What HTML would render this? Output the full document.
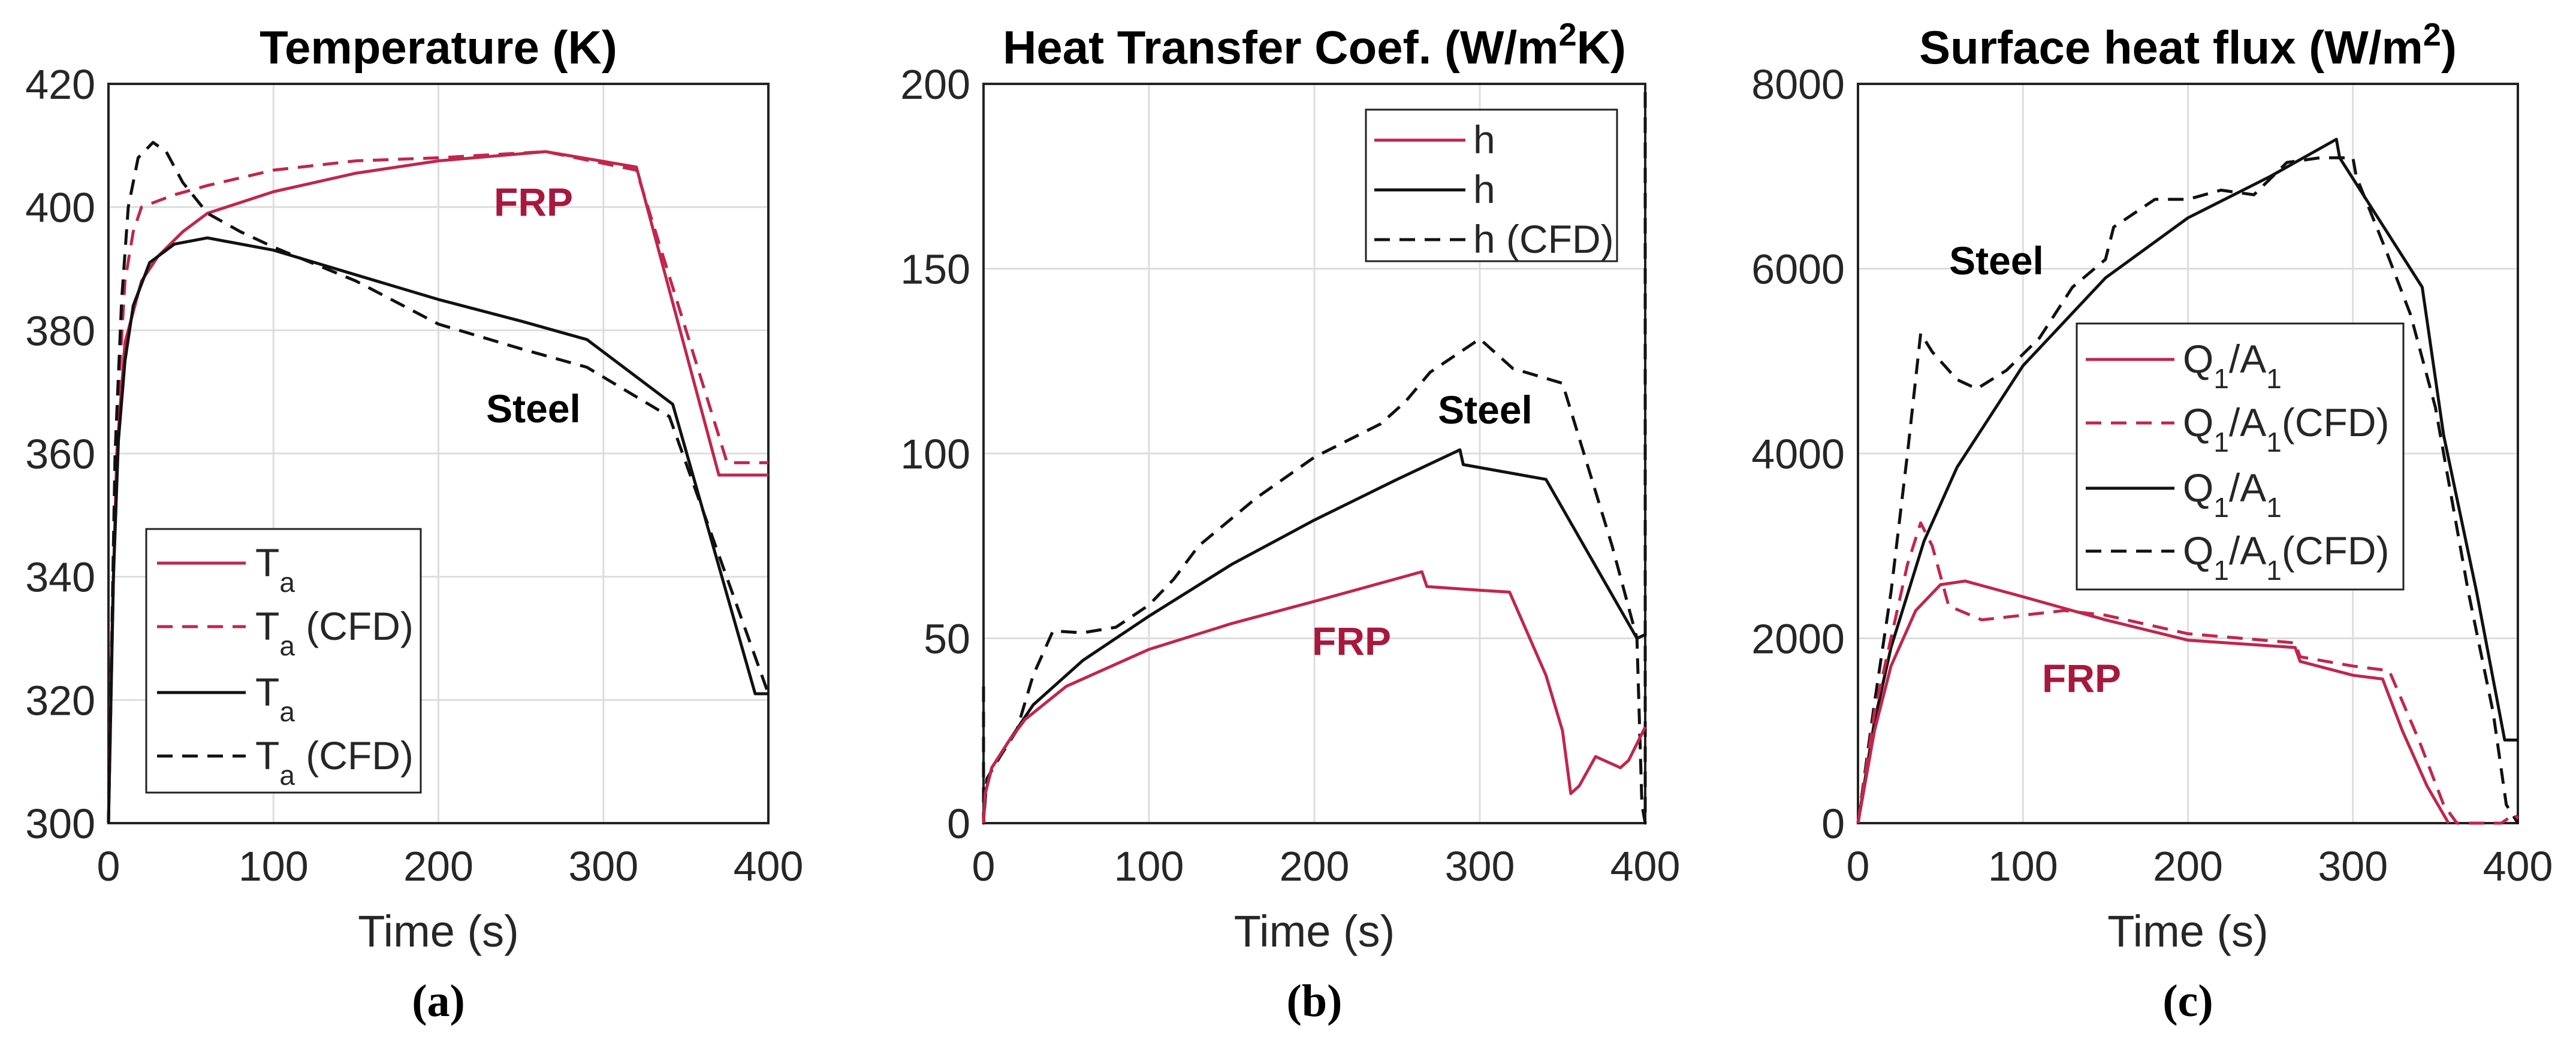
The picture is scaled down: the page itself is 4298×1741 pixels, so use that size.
<!DOCTYPE html>
<html><head><meta charset="utf-8"><style>
html,body{margin:0;padding:0;background:#fff;}
svg{display:block;}
</style></head><body>
<svg id="fig" width="4298" height="1741" viewBox="0 0 4298 1741" xmlns="http://www.w3.org/2000/svg" font-family="'Liberation Sans', sans-serif"></svg>
<script>
// ---- data: panel (a) temperature ----
const aFrpT=[0,2,5,10,20,30,45,60,100,150,200,265,320,370,400];
const aFrpV=[300,330,360,378,388,392,396,399,402.5,405.5,407.5,409,406.5,356.5,356.5];
const aFrpCfdT=[0,3,6,10,15,20,40,60,100,150,200,265,320,375,400];
const aFrpCfdV=[300,340,370,388,396,400,402,403.5,406,407.5,408,409,406,358.5,358.5];
const aStT=[0,3,6,10,15,25,40,60,100,150,200,250,290,342,392,400];
const aStV=[300,340,362,375,384,391,394,395,393,389,385,381.5,378.5,368,321,321];
const aStCfdT=[0,2,4,8,12,18,27,35,45,60,80,100,150,200,250,290,340,400];
const aStCfdV=[300,330,360,385,400,408,410.5,409,404,399,396,393.5,388,381,377,374,366,321];
// ---- data: panel (b) heat transfer coefficient ----
const bFrpT=[0,1,5,15,25,50,100,150,200,265,268,300,318,340,350,355,360,370,385,390,400];
const bFrpV=[0,8,15,22,28,37,47,54,60,68,64,63,62.5,40,25,8,10,18,15,17,26];
const bStT=[0,1,5,15,30,60,100,150,200,250,288,290,340,395,400];
const bStV=[0,8,15,22,32,44,56,70,82,93,101,97,93,50,51];
const bStCfdT=[0,0,2,10,20,30,42,60,80,100,115,130,165,200,240,255,270,300,320,350,380,395,398,400,400];
const bStCfdV=[37,0,12,18,25,40,52,51.5,53,59,66,75,88,99,108,114,122,131,123,119,75,50,5,0,200];
// ---- data: panel (c) surface heat flux ----
const cFrpT=[0,10,20,35,50,65,100,150,200,265,268,300,318,330,345,358];
const cFrpV=[0,1000,1700,2300,2580,2620,2450,2200,1980,1900,1750,1600,1560,1000,400,0];
const cFrpCfdT=[0,10,20,30,38,45,55,75,100,125,150,200,265,268,300,322,340,355,363,390,398,400];
const cFrpCfdV=[0,1200,2000,2800,3250,3000,2350,2200,2250,2300,2250,2050,1950,1800,1700,1650,900,200,0,0,100,50];
const cStT=[0,10,20,40,60,100,150,200,250,290,292,342,355,375,392,400];
const cStV=[0,1100,1900,3050,3850,4950,5900,6550,7000,7400,7200,5800,4200,2500,900,900];
const cStCfdT=[0,10,20,30,38,45,60,72,90,110,130,150,155,180,200,220,240,260,280,300,302,320,335,350,370,385,393,400];
const cStCfdV=[0,1300,2500,4000,5300,5100,4800,4700,4900,5250,5800,6100,6450,6750,6750,6850,6800,7150,7200,7200,7000,6200,5500,4500,2500,1200,200,0];
// ---- tick labels ----
const xTicks=[0,100,200,300,400];
const aYTicks=[300,320,340,360,380,400,420];
const bYTicks=[0,50,100,150,200];
const cYTicks=[0,2000,4000,6000,8000];

const RED='#c1264c', BLK='#111';
const NS='http://www.w3.org/2000/svg';
const svg=document.getElementById('fig');
function mk(tag,attrs,parent){const e=document.createElementNS(NS,tag);for(const k in attrs)e.setAttribute(k,attrs[k]);(parent||svg).appendChild(e);return e;}
const Y0=140,Y1=1374;
function panel(id,x0,x1,ymin,ymax,yticks,title,label){
  const g=mk('g',{});
  
  
  const sx=t=>x0+(t/400)*(x1-x0);
  const sy=v=>Y1-(v-ymin)/(ymax-ymin)*(Y1-Y0);
  xTicks.forEach(t=>{
    const l=mk('line',{x1:sx(t),x2:sx(t),y1:Y0,y2:Y1,stroke:'#dddddd','stroke-width':3},g);
    
    
    const tx=mk('text',{x:sx(t),y:Y1+96,'font-size':70,fill:'#262626','text-anchor':'middle'},g);
    
    
    tx.textContent=t;
  });
  yticks.forEach(v=>{
    const l=mk('line',{x1:x0,x2:x1,y1:sy(v),y2:sy(v),stroke:'#dddddd','stroke-width':3},g);
    
    
    const tx=mk('text',{x:x0-22,y:sy(v)+25,'font-size':70,fill:'#262626','text-anchor':'end'},g);
    
    
    tx.textContent=v;
  });
  const box=mk('rect',{x:x0,y:Y0,width:x1-x0,height:Y1-Y0,fill:'none',stroke:'#222','stroke-width':4},g);
  
  
  const tt=mk('text',{x:(x0+x1)/2,y:106,'font-size':78,'font-weight':'bold','text-anchor':'middle',fill:'#000'},g);
  
  
  tt.innerHTML=title;
  const xl=mk('text',{x:(x0+x1)/2,y:1580,'font-size':74,'text-anchor':'middle',fill:'#262626'},g);
  
  
  xl.textContent='Time (s)';
  const pl=mk('text',{x:(x0+x1)/2,y:1696,'font-size':76,'font-weight':'bold','text-anchor':'middle',fill:'#000','font-family':"'Liberation Serif', serif"},g);
  
  
  pl.textContent=label;
  return {g,sx,sy};
}
function series(p,ts,vs,color,dash,name){
  const d=ts.map((t,i)=>(i?'L':'M')+p.sx(t).toFixed(1)+' '+p.sy(vs[i]).toFixed(1)).join(' ');
  const a={d,fill:'none',stroke:color,'stroke-width':5,'stroke-linejoin':'round'};
  if(dash)a['stroke-dasharray']='26 16';
  const e=mk('path',a,p.g);
  
  
}
function note(p,x,y,txt,color,name){
  const e=mk('text',{x,y,'font-size':66,'font-weight':'bold','text-anchor':'middle',fill:color},p.g);
  
  
  e.textContent=txt;
}
function legend(p,x,y,w,h,entries,lx0,lx1,tx){
  const lg=mk('g',{},p.g);
  
  
  mk('rect',{x,y,width:w,height:h,fill:'#fff',stroke:'#222','stroke-width':3},lg);
  entries.forEach(en=>{
    const a={x1:lx0,x2:lx1,y1:en.y,y2:en.y,stroke:en.c,'stroke-width':5};
    if(en.dash)a['stroke-dasharray']='26 16';
    const l=mk('line',a,lg);
    
    
    const t=mk('text',{x:tx,y:en.y+22,'font-size':66,fill:'#262626'},lg);
    
    
    t.innerHTML=en.t;
  });
}
const S=(s)=>`<tspan dy="26" font-size="46">${s}</tspan>`;
const U=(s)=>`<tspan dy="-26">${s}</tspan>`;
// Panel a
const pa=panel('temperature',181,1282,300,420,aYTicks,'Temperature (K)','(a)');
series(pa,aFrpCfdT,aFrpCfdV,RED,true,'frp-ta-cfd-line');
series(pa,aFrpT,aFrpV,RED,false,'frp-ta-line');
series(pa,aStCfdT,aStCfdV,BLK,true,'steel-ta-cfd-line');
series(pa,aStT,aStV,BLK,false,'steel-ta-line');
note(pa,890,360,'FRP','#a8183e','frp-annotation');
note(pa,890,705,'Steel','#000','steel-annotation');
legend(pa,244,883,458,440,[
 {y:940,c:RED,dash:false,t:'T'+S('a')},
 {y:1046,c:RED,dash:true,t:'T'+S('a')+U(' (CFD)')},
 {y:1156,c:BLK,dash:false,t:'T'+S('a')},
 {y:1262,c:BLK,dash:true,t:'T'+S('a')+U(' (CFD)')}],262,410,426);
// Panel b
const pb=panel('heat-transfer-coef',1641,2745,0,200,bYTicks,'Heat Transfer Coef. (W/m<tspan dy="-30" font-size="54">2</tspan><tspan dy="30">K)</tspan>','(b)');
series(pb,bStCfdT,bStCfdV,BLK,true,'steel-h-cfd-line');
series(pb,bStT,bStV,BLK,false,'steel-h-line');
series(pb,bFrpT,bFrpV,RED,false,'frp-h-line');
note(pb,2478,707,'Steel','#000','steel-annotation');
note(pb,2255,1093,'FRP','#a8183e','frp-annotation');
legend(pb,2279,183,419,253,[
 {y:234,c:RED,dash:false,t:'h'},
 {y:317,c:BLK,dash:false,t:'h'},
 {y:400,c:BLK,dash:true,t:'h (CFD)'}],2293,2445,2458);
// Panel c
const pc=panel('surface-heat-flux',3100,4201,0,8000,cYTicks,'Surface heat flux (W/m<tspan dy="-30" font-size="54">2</tspan><tspan dy="30">)</tspan>','(c)');
series(pc,cStCfdT,cStCfdV,BLK,true,'steel-q-cfd-line');
series(pc,cStT,cStV,BLK,false,'steel-q-line');
series(pc,cFrpCfdT,cFrpCfdV,RED,true,'frp-q-cfd-line');
series(pc,cFrpT,cFrpV,RED,false,'frp-q-line');
note(pc,3331,458,'Steel','#000','steel-annotation');
note(pc,3473,1155,'FRP','#a8183e','frp-annotation');
const q='Q'+S('1')+U('/A')+S('1');
legend(pc,3465,540,545,444,[
 {y:600,c:RED,dash:false,t:q},
 {y:706,c:RED,dash:true,t:q+U('(CFD)')},
 {y:815,c:BLK,dash:false,t:q},
 {y:920,c:BLK,dash:true,t:q+U('(CFD)')}],3480,3628,3642);
</script>
</body></html>
